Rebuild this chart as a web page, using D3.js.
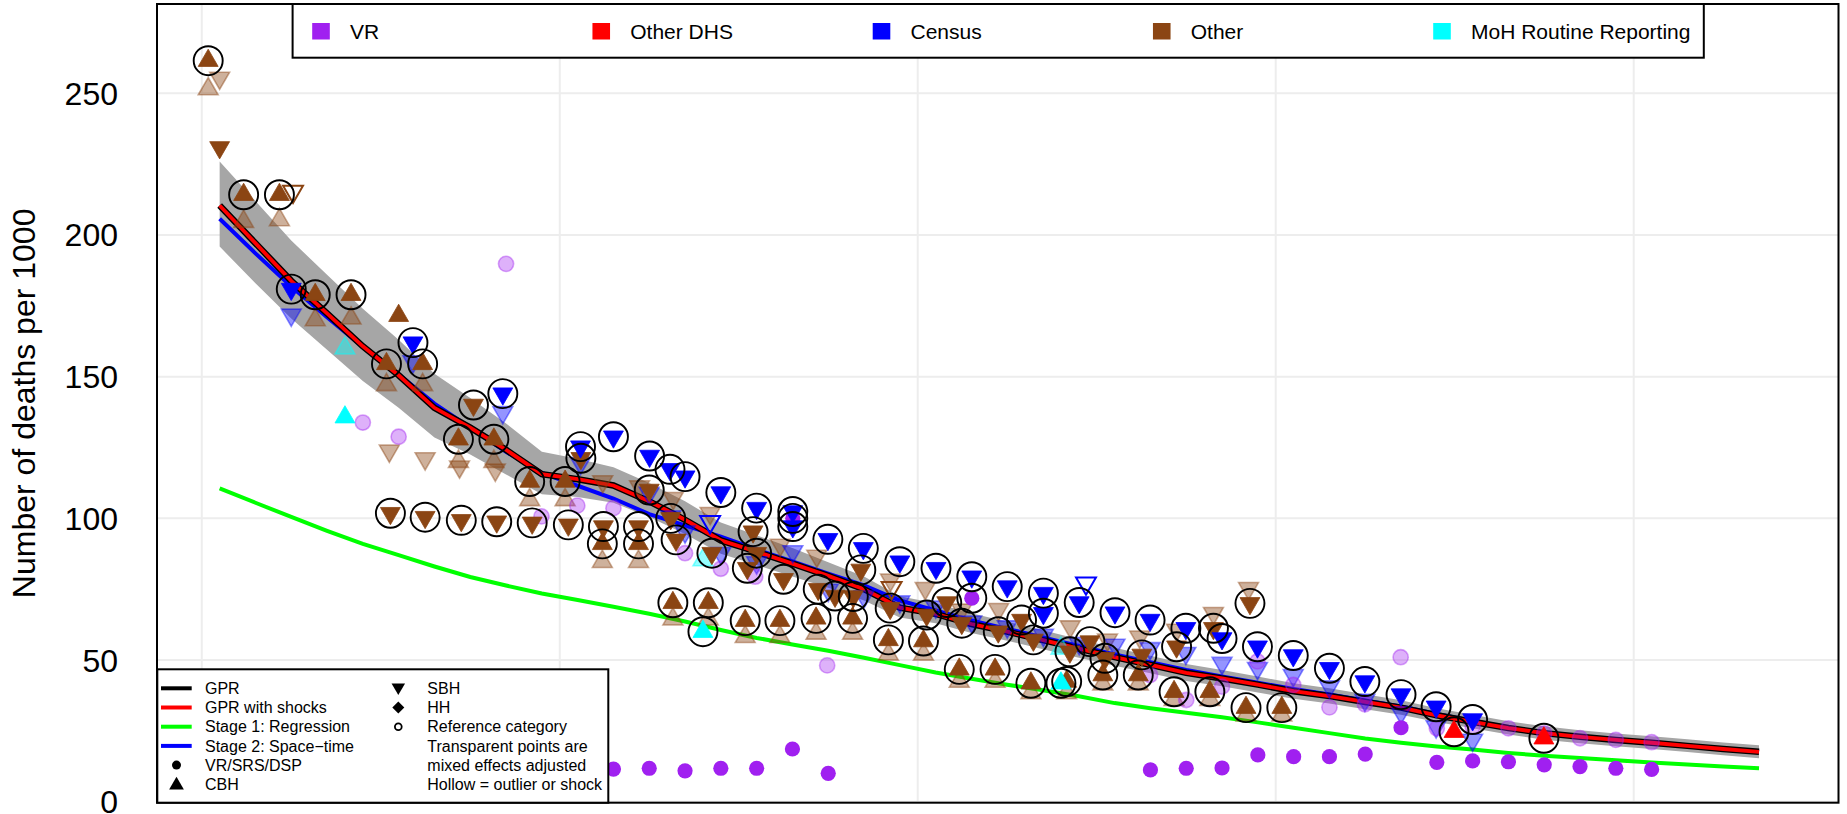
<!DOCTYPE html>
<html><head><meta charset="utf-8">
<script src="https://cdn.jsdelivr.net/npm/d3@7"></script>
<style>body{margin:0;background:#fff}svg{display:block;font-family:"Liberation Sans",Arial,Helvetica,sans-serif}</style>
</head><body><svg id="c" width="1847" height="814"></svg>
<script>
// ---------- DATA ----------
const years = [1970.5,1971.5,1972.5,1973.5,1974.5,1975.5,1976.5,1977.5,1978.5,1979.5,1980.5,1981.5,1982.5,1983.5,1984.5,1985.5,1986.5,1987.5,1988.5,1989.5,1990.5,1991.5,1992.5,1993.5,1994.5,1995.5,1996.5,1997.5,1998.5,1999.5,2000.5,2001.5,2002.5,2003.5,2004.5,2005.5,2006.5,2007.5,2008.5,2009.5,2010.5,2011.5,2012.5,2013.5];
const gpr = [210.4,197.1,183.8,172.3,160.7,150.5,139.0,132.0,124.2,115.6,113.8,111.6,106.0,99.5,92.2,88.2,84.0,79.7,75.0,68.5,66.3,62.7,60.0,57.0,54.0,51.0,48.3,45.5,43.5,41.3,39.0,37.3,35.2,33.2,30.5,28.2,26.0,24.2,22.9,21.8,20.8,19.7,18.6,17.6];
const gprShocks = [210.4,197.1,183.8,172.3,160.7,150.5,139.0,132.0,124.2,115.6,113.8,111.6,106.0,99.5,92.2,88.2,84.0,79.7,75.0,68.5,66.3,62.7,60.0,57.0,54.0,51.0,48.3,45.5,43.5,41.3,39.0,37.3,35.2,33.2,30.5,28.2,26.0,24.2,22.9,21.8,20.8,19.7,18.6,17.6];
const gprUpper = [225.9,212.0,198.0,186.0,174.0,163.0,151.0,142.5,133.5,123.5,121.0,118.0,112.5,106.0,98.5,94.0,89.5,84.5,79.5,72.5,70.0,66.5,63.5,60.5,57.3,54.3,51.5,48.6,46.5,44.2,41.8,40.0,37.9,35.8,33.0,30.7,28.4,26.6,25.2,24.1,23.1,22.0,20.9,19.9];
const gprLower = [195.9,183.0,170.5,159.5,148.5,139.0,128.5,122.5,115.5,108.5,107.5,105.5,100.5,94.5,87.5,83.5,79.5,75.5,71.0,65.0,63.0,59.5,56.8,53.8,50.8,48.0,45.3,42.6,40.7,38.5,36.3,34.7,32.6,30.7,28.1,25.9,23.7,21.9,20.6,19.6,18.6,17.5,16.4,15.3];
const stage1 = [110.6,105.5,100.5,95.6,91.0,87.0,83.0,79.3,76.3,73.5,71.2,68.8,66.3,63.6,60.6,57.8,55.5,53.3,50.8,48.2,45.6,43.4,41.3,39.3,37.2,34.8,33.0,31.4,29.8,28.0,26.1,24.2,22.3,20.8,19.5,18.4,17.2,16.2,15.4,14.6,13.8,13.1,12.4,11.8];
const stage2 = [205.7,193.5,181.8,171.0,160.5,150.8,140.5,132.0,123.5,116.0,111.5,107.0,101.5,97.5,93.5,89.0,84.8,80.5,76.3,71.0,67.5,64.0,61.0,58.0,55.0,52.0,49.2,46.5,44.2,42.0,39.8,37.8,35.7,33.6,31.0,28.5,26.2,24.4,23.0,21.9,20.9,19.8,18.7,17.7];

// points: [year, value, reference(circled)]
const otherCBH = [[1970.18,261.5,1],[1971.17,214.2,1],[1972.17,214.2,1],[1973.17,178.9,1],[1974.17,178.9,1],[1975.5,171.5,0],[1975.16,154.5,1],[1976.17,154.5,1],[1977.17,127.9,1],[1978.16,127.9,1],[1979.16,113.0,1],[1980.15,113.0,1],[1981.19,91.0,1],[1982.2,91.0,1],[1983.16,70.2,1],[1984.15,70.2,1],[1985.18,63.9,1],[1986.15,63.9,1],[1987.16,64.7,1],[1988.18,64.7,1],[1989.18,57.1,1],[1990.16,56.7,1],[1991.16,46.7,1],[1992.16,46.7,1],[1993.16,41.8,1],[1994.16,42.4,1],[1995.17,44.7,1],[1996.16,44.7,1],[1997.16,38.8,1],[1998.16,38.8,1],[1999.17,33.2,1],[2000.17,33.2,1]];
const otherCBHadj = [[1970.18,251.5],[1971.17,204.7],[1972.17,205.3],[1973.17,170.0],[1974.17,170.6],[1975.16,147.1],[1976.17,147.1],[1977.17,120.0],[1978.16,120.0],[1979.16,106.5],[1980.15,106.5],[1981.19,84.7],[1982.2,84.7],[1983.16,64.4],[1984.15,64.4],[1985.18,58.2],[1986.15,58.2],[1987.16,59.4],[1988.18,59.4],[1989.18,52.0],[1990.16,52.0],[1991.16,42.4],[1992.16,42.4],[1993.16,38.4],[1994.16,38.4],[1995.17,41.5],[1996.16,41.5],[1997.16,36.0],[1998.16,36.0],[1999.17,30.5],[2000.17,30.5]];
const otherSBH = [[1970.5,230.9,0],[1977.59,140.0,1],[1975.27,101.8,1],[1976.24,100.4,1],[1977.25,99.3,1],[1978.24,98.8,1],[1979.23,98.4,1],[1980.24,97.7,1],[1981.22,97.1,1],[1982.2,97.1,1],[1980.59,121.2,1],[1982.5,110.0,1],[1983.1,100.0,1],[1983.25,92.4,1],[1984.25,87.7,1],[1985.4,95.3,1],[1985.5,87.7,1],[1985.24,82.4,1],[1986.25,78.5,1],[1987.22,75.0,1],[1987.69,72.6,1],[1988.2,72.4,1],[1988.41,81.8,1],[1989.23,68.3,1],[1990.25,65.9,1],[1990.81,70.3,1],[1991.23,63.0,1],[1992.25,60.0,1],[1992.9,64.1,1],[1993.23,57.1,1],[1994.25,52.9,1],[1994.81,56.5,1],[1995.23,50.6,1],[1996.26,51.8,1],[1997.23,54.7,1],[1998.26,61.2,1],[1999.28,70.0,1]];
const otherSBHadj = [[1970.5,255.4],[1975.24,123.8],[1976.24,121.1],[1977.2,118.2],[1978.2,117.1],[1981.2,113.0],[1982.23,111.2],[1983.17,107.1],[1984.2,101.8],[1986.16,90.6],[1987.18,86.7],[1989.24,78.3],[1990.21,75.3],[1991.23,67.7],[1992.26,67.9],[1994.26,61.8],[1995.3,57.1],[1996.2,58.2],[1997.23,60.6],[1998.26,66.5],[1999.24,75.3]];
const otherSBHoutlier = [[1972.55,215.3],[1989.27,75.5]];
const censusSBH = [[1972.5,180.9,1],[1975.9,162.0,1],[1978.41,144.0,1],[1980.58,125.3,1],[1981.5,128.8,1],[1982.51,122.0,1],[1983.08,117.3,1],[1983.5,114.7,1],[1984.5,109.1,1],[1985.5,103.6,1],[1986.51,102.4,1],[1986.51,97.1,1],[1987.49,92.6,1],[1988.48,89.4,1],[1989.5,84.7,1],[1990.51,82.4,1],[1991.51,79.4,1],[1992.5,75.9,1],[1993.51,73.6,1],[1993.51,66.5,1],[1994.51,70.3,1],[1995.51,66.7,1],[1996.49,64.1,1],[1997.49,61.2,1],[1998.5,57.6,1],[1999.49,54.7,1],[2000.49,51.6,1],[2001.5,47.1,1],[2002.49,42.4,1],[2003.5,37.8,1],[2004.48,33.5,1],[2005.5,29.0,1]];
const censusSBHadj = [[1972.5,171.8],[1975.9,155.3],[1978.41,137.4],[1980.58,119.4],[1982.5,108.9],[1983.1,100.6],[1983.5,95.3],[1984.5,87.7],[1985.5,84.4],[1986.51,88.3],[1987.5,74.7],[1988.5,72.4],[1989.5,70.6],[1990.5,68.8],[1991.51,63.5],[1992.5,61.8],[1993.51,58.8],[1994.51,55.9],[1995.51,55.3],[1996.49,54.1],[1997.49,52.4],[1998.5,48.9],[1999.49,47.1],[2000.49,44.6],[2001.5,40.6],[2002.49,35.9],[2003.5,31.5],[2004.48,26.5],[2005.5,21.8]];
const censusSBHoutlier = [[1984.2,98.8],[1994.7,77.1]];
const vrPoints = [[1981.5,11.5,0],[1982.5,11.8,0],[1983.5,10.9,0],[1984.5,11.8,0],[1985.5,11.8,0],[1986.5,18.6,0],[1987.5,10.0,0],[1986.51,100.0,1],[1991.51,71.8,1],[1996.5,11.2,0],[1997.5,11.8,0],[1998.5,11.9,0],[1999.5,16.5,0],[2000.5,15.9,0],[2001.5,15.9,0],[2002.5,16.8,0],[2003.5,26.1,0],[2004.5,13.9,0],[2005.5,14.4,0],[2006.5,14.1,0],[2007.5,13.0,0],[2008.5,12.4,0],[2009.5,11.8,0],[2010.5,11.4,0]];
const vrAdj = [[1974.5,133.8],[1975.5,128.8],[1978.5,189.8],[1979.49,100.7],[1980.49,104.5],[1981.5,103.6],[1983.5,87.7],[1984.5,82.2],[1985.46,79.4],[1987.47,48.1],[1996.49,44.7],[1997.5,35.9],[1998.5,40.6],[1999.49,49.5],[2000.49,41.2],[2001.5,33.3],[2002.49,34.4],[2003.49,51.0],[2004.5,25.9],[2005.5,26.5],[2006.5,25.9],[2007.5,24.1],[2008.5,22.4],[2009.5,21.8],[2010.5,21.0]];
const dhsCBH = [[2004.98,24.7,1],[2007.49,22.4,1]];
const mohCBH = [[1974.0,135.7,0],[1984.0,60.0,1],[1994.0,41.8,1]];
const mohCBHadj = [[1974.0,160.0],[1984.0,85.3],[1994.0,54.1]];

const yTicks = [0,50,100,150,200,250];
const xGrid = [1970,1980,1990,2000,2010];
const sourceNames = ["VR","Other DHS","Census","Other","MoH Routine Reporting"];
const sourceColors = ["#A020F0","#FF0000","#0000FF","#8B4513","#00FFFF"];
const lineLegend = ["GPR","GPR with shocks","Stage 1: Regression","Stage 2: Space\u2212time","VR/SRS/DSP","CBH"];
const lineLegendColors = ["#000000","#FF0000","#00FF00","#0000FF"];
const symLegend = ["SBH","HH","Reference category","Transparent points are","mixed effects adjusted","Hollow = outlier or shock"];

// ---------- DRAW ----------
const W=1847,H=814;
const P={l:157,r:1838.5,t:4,b:802.7};
const x=d3.scaleLinear().domain([1968.75,2015.72]).range([P.l,P.r]);
const y=d3.scaleLinear().domain([-0.35,281.5]).range([P.b,P.t]);
const svg=d3.select("#c");
svg.append("rect").attr("width",W).attr("height",H).attr("fill","#fff");
svg.append("defs").append("clipPath").attr("id","clip").append("rect")
  .attr("x",P.l).attr("y",P.t).attr("width",P.r-P.l).attr("height",P.b-P.t);
const g=svg.append("g").attr("clip-path","url(#clip)");

g.selectAll(".vg").data(xGrid).join("line").attr("x1",d=>x(d)).attr("x2",d=>x(d))
  .attr("y1",P.t).attr("y2",P.b).attr("stroke","#EDEDED").attr("stroke-width",2);
g.selectAll(".hg").data(yTicks).join("line").attr("y1",d=>y(d)).attr("y2",d=>y(d))
  .attr("x1",P.l).attr("x2",P.r).attr("stroke","#EDEDED").attr("stroke-width",2);

const area=d3.area().x((d,i)=>x(years[i])).y0((d,i)=>y(gprLower[i])).y1((d,i)=>y(gprUpper[i]));
g.append("path").datum(years).attr("d",area).attr("fill","#A6A6A6");
const line=arr=>d3.line().x((d,i)=>x(years[i])).y(d=>y(d))(arr);
g.append("path").attr("d",line(stage1)).attr("fill","none").attr("stroke","#00FF00").attr("stroke-width",4);
g.append("path").attr("d",line(stage2)).attr("fill","none").attr("stroke","#0000FF").attr("stroke-width",4);
g.append("path").attr("d",line(gpr)).attr("fill","none").attr("stroke","#000").attr("stroke-width",6.5);
g.append("path").attr("d",line(gprShocks)).attr("fill","none").attr("stroke","#FF0000").attr("stroke-width",3.8);

const TR=11.5;
function triPath(cx,cy,r,up){
  const h=r/2, w=r*Math.sqrt(3)/2;
  return up ? `M${cx},${cy-r}L${cx+w},${cy+h}L${cx-w},${cy+h}Z`
            : `M${cx},${cy+r}L${cx+w},${cy-h}L${cx-w},${cy-h}Z`;
}
function tris(data,color,up,mode){
  const sel=g.append("g").selectAll("path").data(data).join("path")
    .attr("d",d=>triPath(x(d[0]),y(d[1]),TR,up));
  if(mode==="solid") sel.attr("fill",color).attr("stroke",color).attr("stroke-width",0.8);
  else if(mode==="adj") sel.attr("fill",color).attr("fill-opacity",0.42).attr("stroke",color).attr("stroke-opacity",0.45).attr("stroke-width",1.6);
  else sel.attr("fill","none").attr("stroke",color).attr("stroke-width",2);
}
function dots(data,color,mode){
  const sel=g.append("g").selectAll("circle").data(data).join("circle")
    .attr("cx",d=>x(d[0])).attr("cy",d=>y(d[1])).attr("r",7.6);
  if(mode==="solid") sel.attr("fill",color);
  else sel.attr("fill",color).attr("fill-opacity",0.35).attr("stroke",color).attr("stroke-opacity",0.4).attr("stroke-width",1.6);
}
// adjusted (transparent) first
tris(otherCBHadj,"#8B4513",true,"adj");
tris(otherSBHadj,"#8B4513",false,"adj");
tris(censusSBHadj,"#0000FF",false,"adj");
tris(mohCBHadj,"#00FFFF",true,"adj");
dots(vrAdj,"#A020F0","adj");
// solid
dots(vrPoints,"#A020F0","solid");
tris(otherCBH,"#8B4513",true,"solid");
tris(otherSBH,"#8B4513",false,"solid");
tris(censusSBH,"#0000FF",false,"solid");
tris(dhsCBH,"#FF0000",true,"solid");
tris(mohCBH,"#00FFFF",true,"solid");
// hollow outliers
tris(otherSBHoutlier,"#8B4513",false,"hollow");
tris(censusSBHoutlier,"#0000FF",false,"hollow");
// reference circles
const refs=[...otherCBH,...otherSBH,...censusSBH,...vrPoints,...dhsCBH,...mohCBH].filter(d=>d[2]===1);
g.append("g").selectAll("circle").data(refs).join("circle")
  .attr("cx",d=>x(d[0])).attr("cy",d=>y(d[1])).attr("r",14.5)
  .attr("fill","none").attr("stroke","#000").attr("stroke-width",1.9);

// frame
svg.append("rect").attr("x",P.l).attr("y",P.t).attr("width",P.r-P.l).attr("height",P.b-P.t)
  .attr("fill","none").attr("stroke","#000").attr("stroke-width",2);

// y axis labels
svg.append("g").selectAll("text").data(yTicks).join("text")
  .attr("x",118).attr("y",d=>y(d)).attr("dy","0.36em").attr("text-anchor","end")
  .attr("font-size",32).text(d=>d);
svg.append("text").attr("transform",`translate(35,${(P.t+P.b)/2}) rotate(-90)`)
  .attr("text-anchor","middle").attr("font-size",32).text("Number of deaths per 1000");

// top legend
const tl=svg.append("g");
tl.append("rect").attr("x",292.6).attr("y",4).attr("width",1703.8-292.6).attr("height",53.7)
  .attr("fill","#fff").attr("stroke","#000").attr("stroke-width",2);
const legX=d3.scalePoint().domain(sourceNames).range([321,1442]);
sourceNames.forEach((n,i)=>{
  tl.append("rect").attr("x",legX(n)-8.8).attr("y",23).attr("width",17.6).attr("height",16.5).attr("fill",sourceColors[i]);
  tl.append("text").attr("x",legX(n)+29).attr("y",31.5).attr("dy","0.36em").attr("font-size",21).text(n);
});

// bottom legend
const bl=svg.append("g");
bl.append("rect").attr("x",157.3).attr("y",669.3).attr("width",451).attr("height",133.4)
  .attr("fill","#fff").attr("stroke","#000").attr("stroke-width",2);
const rowY=d3.scaleLinear().domain([0,5]).range([688.3,784.3]);
lineLegend.forEach((t,i)=>{
  const yy=rowY(i);
  if(i<4) bl.append("line").attr("x1",161).attr("x2",191.7).attr("y1",yy).attr("y2",yy)
    .attr("stroke",lineLegendColors[i]).attr("stroke-width",4);
  bl.append("text").attr("x",205).attr("y",yy).attr("dy","0.36em").attr("font-size",16).text(t);
});
bl.append("circle").attr("cx",176.5).attr("cy",rowY(4)).attr("r",4.5).attr("fill","#000");
bl.append("path").attr("d",triPath(176.5,rowY(5)+1,8.5,true)).attr("fill","#000");
symLegend.forEach((t,i)=>{
  bl.append("text").attr("x",427.3).attr("y",rowY(i)).attr("dy","0.36em").attr("font-size",16).text(t);
});
bl.append("path").attr("d",triPath(398.3,rowY(0)-1,7.8,false)).attr("fill","#000");
const dm=6;
bl.append("path").attr("d",`M398.3,${rowY(1)-dm}L${398.3+dm},${rowY(1)}L398.3,${rowY(1)+dm}L${398.3-dm},${rowY(1)}Z`).attr("fill","#000");
bl.append("circle").attr("cx",398.3).attr("cy",rowY(2)).attr("r",3.4).attr("fill","none").attr("stroke","#000").attr("stroke-width",1.8);
</script></body></html>
